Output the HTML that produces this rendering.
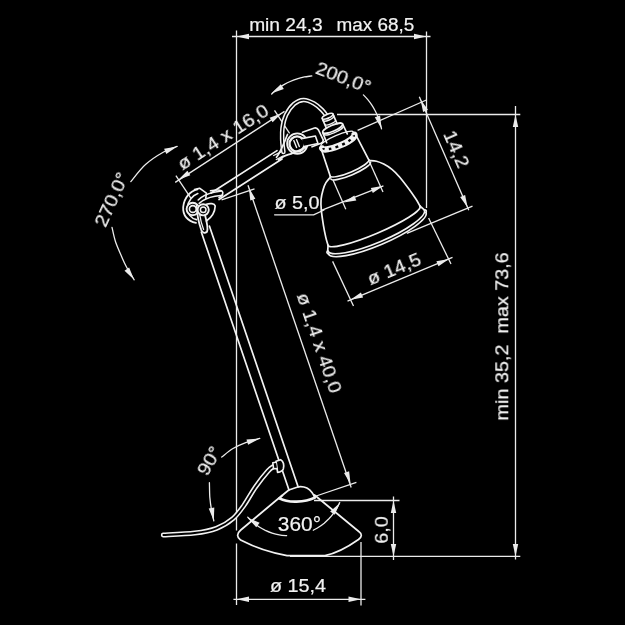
<!DOCTYPE html>
<html><head><meta charset="utf-8"><style>
html,body{margin:0;padding:0;background:#000;}
svg{display:block;}
text{font-family:"Liberation Sans",sans-serif;}
</style></head><body>
<svg width="625" height="625" viewBox="0 0 625 625">
<rect width="625" height="625" fill="#000"/>
<line x1="236.5" y1="30.5" x2="236.5" y2="530.5" stroke="#ebebeb" stroke-width="1.3"/>
<line x1="236.5" y1="543.5" x2="236.5" y2="605.0" stroke="#ebebeb" stroke-width="1.3"/>
<line x1="426.5" y1="31.5" x2="426.5" y2="208.0" stroke="#ebebeb" stroke-width="1.3"/>
<line x1="232.0" y1="36.5" x2="430.5" y2="36.5" stroke="#ebebeb" stroke-width="1.3"/>
<polygon points="236.5,36.5 249.0,33.8 249.0,39.2" fill="#ebebeb"/>
<polygon points="426.5,36.5 414.0,39.2 414.0,33.8" fill="#ebebeb"/>
<text style="will-change:transform" transform="translate(285.9,30.9) rotate(0.0) scale(1.037,1)" text-anchor="middle" font-size="18.5" fill="#f2f2f2" stroke="#f2f2f2" stroke-width="0.2">min 24,3</text>
<text style="will-change:transform" transform="translate(375.4,30.9) rotate(0.0) scale(1.023,1)" text-anchor="middle" font-size="18.5" fill="#f2f2f2" stroke="#f2f2f2" stroke-width="0.2">max 68,5</text>
<line x1="337.0" y1="114.5" x2="520.3" y2="114.5" stroke="#ebebeb" stroke-width="1.3"/>
<line x1="290.0" y1="556.4" x2="520.3" y2="556.4" stroke="#ebebeb" stroke-width="1.3"/>
<line x1="515.5" y1="106.0" x2="515.5" y2="559.5" stroke="#ebebeb" stroke-width="1.3"/>
<polygon points="515.5,114.5 518.2,127.0 512.8,127.0" fill="#ebebeb"/>
<polygon points="515.5,556.4 512.8,543.9 518.2,543.9" fill="#ebebeb"/>
<text style="will-change:transform" transform="translate(508.3,336.4) rotate(-90.0) scale(1.07,1)" text-anchor="middle" font-size="18.5" fill="#f2f2f2" stroke="#f2f2f2" stroke-width="0.2">min 35,2&#160;&#160;max 73,6</text>
<line x1="314.0" y1="500.5" x2="399.5" y2="500.5" stroke="#ebebeb" stroke-width="1.3"/>
<line x1="393.5" y1="496.5" x2="393.5" y2="560.0" stroke="#ebebeb" stroke-width="1.3"/>
<polygon points="393.5,500.5 396.2,513.0 390.8,513.0" fill="#ebebeb"/>
<polygon points="393.5,556.4 390.8,543.9 396.2,543.9" fill="#ebebeb"/>
<text style="will-change:transform" transform="translate(387.8,530.0) rotate(-90.0) scale(1.07,1)" text-anchor="middle" font-size="18.5" fill="#f2f2f2" stroke="#f2f2f2" stroke-width="0.2">6,0</text>
<line x1="361.0" y1="542.0" x2="361.0" y2="605.5" stroke="#ebebeb" stroke-width="1.3"/>
<line x1="233.4" y1="599.3" x2="365.4" y2="599.3" stroke="#ebebeb" stroke-width="1.3"/>
<polygon points="236.5,599.3 249.0,596.6 249.0,602.0" fill="#ebebeb"/>
<polygon points="361.0,599.3 348.5,602.0 348.5,596.6" fill="#ebebeb"/>
<text style="will-change:transform" transform="translate(298.0,591.6) rotate(0.0) scale(1.07,1)" text-anchor="middle" font-size="18.5" fill="#f2f2f2" stroke="#f2f2f2" stroke-width="0.2">ø 15,4</text>
<line x1="419.3" y1="96.8" x2="468.8" y2="210.2" stroke="#ebebeb" stroke-width="1.3"/>
<polygon points="420.5,99.5 428.0,109.8 423.1,112.0" fill="#ebebeb"/>
<polygon points="467.6,207.4 460.1,197.0 465.1,194.9" fill="#ebebeb"/>
<line x1="357.6" y1="130.4" x2="426.4" y2="100.0" stroke="#ebebeb" stroke-width="1.3"/>
<line x1="406.8" y1="233.3" x2="472.5" y2="206.2" stroke="#ebebeb" stroke-width="1.3"/>
<text style="will-change:transform" transform="translate(450.6,151.8) rotate(66.4) scale(1.07,1)" text-anchor="middle" font-size="18.5" fill="#f2f2f2" stroke="#f2f2f2" stroke-width="0.2">14,2</text>
<line x1="332.6" y1="261.4" x2="353.5" y2="306.0" stroke="#ebebeb" stroke-width="1.3"/>
<line x1="428.6" y1="218.0" x2="451.0" y2="264.0" stroke="#ebebeb" stroke-width="1.3"/>
<line x1="347.5" y1="301.1" x2="452.5" y2="257.4" stroke="#ebebeb" stroke-width="1.3"/>
<polygon points="350.5,299.8 360.9,292.4 363.1,297.4" fill="#ebebeb"/>
<polygon points="449.0,258.9 438.5,266.2 436.4,261.2" fill="#ebebeb"/>
<text style="will-change:transform" transform="translate(396.5,274.8) rotate(-22.5) scale(1.07,1)" text-anchor="middle" font-size="18.5" fill="#f2f2f2" stroke="#f2f2f2" stroke-width="0.2">ø 14,5</text>
<line x1="332.8" y1="179.4" x2="345.8" y2="209.2" stroke="#ebebeb" stroke-width="1.3"/>
<line x1="369.3" y1="161.5" x2="383.0" y2="192.0" stroke="#ebebeb" stroke-width="1.3"/>
<line x1="322.0" y1="210.2" x2="383.4" y2="185.8" stroke="#ebebeb" stroke-width="1.3"/>
<polygon points="343.7,202.5 354.3,195.4 356.3,200.4" fill="#ebebeb"/>
<polygon points="383.4,185.8 372.8,192.9 370.8,187.9" fill="#ebebeb"/>
<path d="M274.6,214.8 L313.6,214.8 L324,210" stroke="#ebebeb" stroke-width="1.3" fill="none" stroke-linecap="round" stroke-linejoin="round" />
<text style="will-change:transform" transform="translate(297.0,208.8) rotate(0.0) scale(1.07,1)" text-anchor="middle" font-size="18.5" fill="#f2f2f2" stroke="#f2f2f2" stroke-width="0.2">ø 5,0</text>
<line x1="221.6" y1="199.8" x2="254.5" y2="188.8" stroke="#ebebeb" stroke-width="1.3"/>
<line x1="314.7" y1="496.5" x2="356.4" y2="482.4" stroke="#ebebeb" stroke-width="1.3"/>
<line x1="248.0" y1="185.3" x2="351.2" y2="487.5" stroke="#ebebeb" stroke-width="1.3"/>
<polygon points="248.8,187.8 255.4,198.7 250.3,200.5" fill="#ebebeb"/>
<polygon points="350.6,484.0 344.0,473.1 349.1,471.3" fill="#ebebeb"/>
<text style="will-change:transform" transform="translate(313.3,345.0) rotate(71.2) scale(1.07,1)" text-anchor="middle" font-size="18.5" fill="#f2f2f2" stroke="#f2f2f2" stroke-width="0.2">ø 1,4 x 40,0</text>
<line x1="175.9" y1="175.7" x2="191.0" y2="198.3" stroke="#ebebeb" stroke-width="1.3"/>
<line x1="274.5" y1="110.4" x2="289.6" y2="133.4" stroke="#ebebeb" stroke-width="1.3"/>
<line x1="175.2" y1="182.4" x2="284.5" y2="111.4" stroke="#ebebeb" stroke-width="1.3"/>
<polygon points="178.4,179.8 187.4,170.7 190.3,175.2" fill="#ebebeb"/>
<polygon points="281.6,113.2 272.6,122.3 269.7,117.8" fill="#ebebeb"/>
<text style="will-change:transform" transform="translate(226.5,142.3) rotate(-33.0) scale(1.07,1)" text-anchor="middle" font-size="18.5" fill="#f2f2f2" stroke="#f2f2f2" stroke-width="0.2">ø 1,4 x 16,0</text>
<path d="M130.8,181.6 C133.2,178.8 140.0,169.4 145.5,164.5 C151.0,159.6 158.3,155.0 163.6,152.0 C168.9,149.0 174.9,147.3 177.2,146.4" stroke="#ebebeb" stroke-width="1.3" fill="none" stroke-linecap="round" stroke-linejoin="round" />
<polygon points="177.2,146.4 166.3,154.0 164.1,148.8" fill="#ebebeb"/>
<path d="M112.0,227.3 C112.6,229.8 113.9,237.0 115.6,242.0 C117.3,247.0 120.2,253.2 122.0,257.4 C123.8,261.6 124.5,263.3 126.5,267.0 C128.5,270.7 132.9,277.7 134.2,279.8" stroke="#ebebeb" stroke-width="1.3" fill="none" stroke-linecap="round" stroke-linejoin="round" />
<polygon points="134.2,279.8 124.5,270.7 129.1,267.5" fill="#ebebeb"/>
<text style="will-change:transform" transform="translate(117.5,202.2) rotate(-65.5) scale(1.07,1)" text-anchor="middle" font-size="18.5" fill="#f2f2f2" stroke="#f2f2f2" stroke-width="0.2">270,0°</text>
<path d="M271.7,94.0 C272.6,93.2 275.4,90.6 277.3,89.1 C279.3,87.6 281.4,86.2 283.5,84.9 C285.7,83.7 287.9,82.5 290.2,81.5 C292.4,80.5 294.8,79.6 297.2,78.8 C299.5,78.0 302.0,77.4 304.4,76.9 C306.8,76.5 310.6,76.1 311.8,75.9" stroke="#ebebeb" stroke-width="1.3" fill="none" stroke-linecap="round" stroke-linejoin="round" />
<polygon points="271.2,93.5 280.8,84.3 283.8,89.1" fill="#ebebeb"/>
<path d="M363.4,94.9 C364.2,95.7 366.4,98.0 367.8,99.7 C369.2,101.4 370.5,103.1 371.7,104.9 C372.9,106.7 374.0,108.6 375.0,110.5 C376.0,112.4 377.0,114.4 377.8,116.4 C378.6,118.4 379.3,120.4 379.9,122.5 C380.6,124.6 381.2,127.7 381.5,128.8" stroke="#ebebeb" stroke-width="1.3" fill="none" stroke-linecap="round" stroke-linejoin="round" />
<polygon points="381.5,128.8 374.8,117.3 380.1,115.6" fill="#ebebeb"/>
<text style="will-change:transform" transform="translate(341.2,83.5) rotate(21.0) scale(1.07,1)" text-anchor="middle" font-size="18.5" fill="#f2f2f2" stroke="#f2f2f2" stroke-width="0.2">200,0°</text>
<path d="M221.7,457.0 C223.6,455.6 228.9,450.9 233.0,448.5 C237.1,446.1 241.8,444.1 246.3,442.4 C250.8,440.7 257.6,439.1 259.8,438.4" stroke="#ebebeb" stroke-width="1.3" fill="none" stroke-linecap="round" stroke-linejoin="round" />
<polygon points="259.8,438.4 248.1,444.8 246.5,439.4" fill="#ebebeb"/>
<path d="M209.4,482.7 C209.5,485.1 209.5,492.4 209.8,497.0 C210.2,501.6 210.8,506.0 211.5,510.0 C212.2,514.0 213.4,519.0 213.8,520.8" stroke="#ebebeb" stroke-width="1.3" fill="none" stroke-linecap="round" stroke-linejoin="round" />
<polygon points="213.8,520.8 208.7,508.5 214.3,507.5" fill="#ebebeb"/>
<text style="will-change:transform" transform="translate(214.9,463.9) rotate(-60.0) scale(1.07,1)" text-anchor="middle" font-size="18.5" fill="#f2f2f2" stroke="#f2f2f2" stroke-width="0.2">90°</text>
<path d="M247.7,517.1 C248.6,518.0 251.1,520.7 253.0,522.3 C254.8,523.9 256.8,525.4 258.9,526.8 C260.9,528.1 263.1,529.3 265.3,530.4 C267.5,531.4 269.8,532.4 272.1,533.1 C274.5,533.9 276.9,534.5 279.3,534.9 C281.7,535.4 285.4,535.6 286.6,535.7" stroke="#ebebeb" stroke-width="1.3" fill="none" stroke-linecap="round" stroke-linejoin="round" />
<polygon points="247.4,517.4 259.6,522.8 256.3,527.3" fill="#ebebeb"/>
<path d="M313.3,530.2 C314.2,529.7 317.1,528.2 318.9,527.0 C320.7,525.9 322.5,524.6 324.2,523.2 C325.8,521.8 327.4,520.3 328.9,518.8 C330.4,517.2 331.8,515.5 333.1,513.8 C334.4,512.1 335.7,510.3 336.7,508.4 C337.8,506.5 339.2,503.5 339.7,502.6" stroke="#ebebeb" stroke-width="1.3" fill="none" stroke-linecap="round" stroke-linejoin="round" />
<polygon points="340.2,502.8 334.6,514.8 330.1,511.4" fill="#ebebeb"/>
<text style="will-change:transform" transform="translate(299.4,531.0) rotate(0.0) scale(1.045,1)" text-anchor="middle" font-size="20" fill="#f2f2f2" stroke="#f2f2f2" stroke-width="0.2">360°</text>
<path d="M282,495.5 L240.8,530 Q234.5,535.3 240.6,540.1 C252,546 265,552 287,555.6 L325,555.6 C338,553 350,545.5 358.5,539.5 Q364,535.3 358.8,531.5 L314.5,495" stroke="#f2f2f2" stroke-width="1.7" fill="none" stroke-linecap="round" stroke-linejoin="round" />
<path d="M279.2,498.6 C282,495.5 285.5,492.5 288.8,490" stroke="#f2f2f2" stroke-width="1.7" fill="none" stroke-linecap="round" stroke-linejoin="round" />
<path d="M298.5,486.8 C304,486.2 309,488.5 312,492.5 C313.3,494.2 314.2,496 314.8,497.7" stroke="#f2f2f2" stroke-width="1.7" fill="none" stroke-linecap="round" stroke-linejoin="round" />
<path d="M279.5,498.4 C288,503.2 305,502.6 314.8,497.6" stroke="#f2f2f2" stroke-width="2.7" fill="none" stroke-linecap="round" stroke-linejoin="round" />
<path d="M288.8,490 L298.5,486.8" stroke="#f2f2f2" stroke-width="1.6" fill="none" stroke-linecap="round" stroke-linejoin="round" />
<path d="M201.3,232 L288.9,489.8" stroke="#f2f2f2" stroke-width="1.7" fill="none" stroke-linecap="round" stroke-linejoin="round" />
<path d="M209.4,226 L298.0,486.5" stroke="#f2f2f2" stroke-width="1.7" fill="none" stroke-linecap="round" stroke-linejoin="round" />
<path d="M273.5,466.5 C272.6,467.2 271.0,467.6 268.0,471.0 C265.0,474.4 259.3,481.5 255.3,487.2 C251.3,492.9 247.8,499.9 244.1,505.1 C240.4,510.3 237.5,514.7 232.9,518.6 C228.3,522.5 222.8,525.9 216.5,528.3 C210.2,530.7 203.7,531.9 194.8,533.0 C186.0,534.1 168.6,534.7 163.4,535.0" stroke="#f2f2f2" stroke-width="5.0" fill="none" stroke-linecap="round" stroke-linejoin="round" />
<path d="M273.5,466.5 C272.6,467.2 271.0,467.6 268.0,471.0 C265.0,474.4 259.3,481.5 255.3,487.2 C251.3,492.9 247.8,499.9 244.1,505.1 C240.4,510.3 237.5,514.7 232.9,518.6 C228.3,522.5 222.8,525.9 216.5,528.3 C210.2,530.7 203.7,531.9 194.8,533.0 C186.0,534.1 168.6,534.7 163.4,535.0" stroke="#000" stroke-width="1.9" fill="none" stroke-linecap="round" stroke-linejoin="round" />
<path d="M276,461.2 L280.7,459.7 C283.5,461 284.4,465.5 283.3,469 C282.5,471 280.5,472 277.6,472.4 Z" stroke="#f2f2f2" stroke-width="1.7" fill="#000" stroke-linecap="round" stroke-linejoin="round" />
<path d="M276,462.2 L272.8,462.8 L273.6,468.8 L277,468.6" stroke="#f2f2f2" stroke-width="1.6" fill="#000" stroke-linecap="round" stroke-linejoin="round" />
<path d="M211,193.0 L277,150.6" stroke="#f2f2f2" stroke-width="1.7" fill="none" stroke-linecap="round" stroke-linejoin="round" />
<path d="M219,199.5 L282,159.0" stroke="#f2f2f2" stroke-width="1.7" fill="none" stroke-linecap="round" stroke-linejoin="round" />
<path d="M197.5,189.3 C190,191 184,198 183.2,207 C182.6,215 187.5,221.5 196,222.8" stroke="#f2f2f2" stroke-width="1.8" fill="none" stroke-linecap="round" stroke-linejoin="round" />
<path d="M197.8,193.6 C192.5,195.5 188,201 187.4,207.5 C187,213.5 191,218.5 196.5,219.6" stroke="#f2f2f2" stroke-width="1.6" fill="none" stroke-linecap="round" stroke-linejoin="round" />
<path d="M194.5,189.6 L199.5,188.2 L206.4,193.2 L205.8,198.2" stroke="#f2f2f2" stroke-width="1.6" fill="none" stroke-linecap="round" stroke-linejoin="round" />
<circle cx="192.8" cy="209" r="6.2" stroke="#f2f2f2" stroke-width="1.9" fill="#000"/>
<circle cx="192.8" cy="209" r="3.4" stroke="#f2f2f2" stroke-width="1.6" fill="none"/>
<path d="M196.6,205 C196.8,213 198.5,222 201.2,229.8 Q203.5,234.6 207,231.8 C208.4,228.5 206.6,221 205,215" stroke="#f2f2f2" stroke-width="1.8" fill="#000" stroke-linecap="round" stroke-linejoin="round" />
<path d="M199.6,214 C200.5,220 202,225.5 203.6,229.5" stroke="#f2f2f2" stroke-width="1.3" fill="none" stroke-linecap="round" stroke-linejoin="round" />
<circle cx="203.2" cy="209.8" r="5.6" stroke="#f2f2f2" stroke-width="1.9" fill="#000"/>
<circle cx="203.2" cy="209.8" r="2.8" stroke="#f2f2f2" stroke-width="1.5" fill="none"/>
<path d="M198.2,200 C202,196 208,193.5 214,192.2 L221.5,191" stroke="#f2f2f2" stroke-width="1.6" fill="none" stroke-linecap="round" stroke-linejoin="round" />
<path d="M199.2,203.4 C203,199.8 209,197.4 215,196.3 L222.5,195.2" stroke="#f2f2f2" stroke-width="1.6" fill="none" stroke-linecap="round" stroke-linejoin="round" />
<path d="M206.4,204.2 C210,203 214.5,203.5 215.2,206 C215,211 213,216.5 206.4,221" stroke="#f2f2f2" stroke-width="1.7" fill="none" stroke-linecap="round" stroke-linejoin="round" />
<path d="M210.5,190.8 Q222,188.5 222.8,192.5 Q223,196 219,197.5" stroke="#f2f2f2" stroke-width="1.6" fill="none" stroke-linecap="round" stroke-linejoin="round" />
<path d="M283.4,152.0 C283.2,150.0 282.3,144.0 282.2,140.0 C282.1,136.0 281.9,132.2 282.5,128.0 C283.1,123.8 284.1,119.0 286.0,115.0 C287.9,111.0 291.1,106.5 294.0,104.0 C296.9,101.5 300.3,100.1 303.6,100.0 C306.9,99.9 310.9,101.8 314.0,103.5 C317.1,105.2 319.8,107.8 322.0,110.0 C324.2,112.2 326.6,115.8 327.5,117.0" stroke="#f2f2f2" stroke-width="4.6" fill="none" stroke-linecap="round" stroke-linejoin="round" />
<path d="M283.4,152.0 C283.2,150.0 282.3,144.0 282.2,140.0 C282.1,136.0 281.9,132.2 282.5,128.0 C283.1,123.8 284.1,119.0 286.0,115.0 C287.9,111.0 291.1,106.5 294.0,104.0 C296.9,101.5 300.3,100.1 303.6,100.0 C306.9,99.9 310.9,101.8 314.0,103.5 C317.1,105.2 319.8,107.8 322.0,110.0 C324.2,112.2 326.6,115.8 327.5,117.0" stroke="#000" stroke-width="1.6" fill="none" stroke-linecap="round" stroke-linejoin="round" />
<path d="M276.5,157.2 C282,150 285,140 287.5,134.5" stroke="#f2f2f2" stroke-width="1.7" fill="none" stroke-linecap="round" stroke-linejoin="round" />
<circle cx="297.3" cy="143.6" r="10.2" stroke="#f2f2f2" stroke-width="1.8" fill="#000"/>
<circle cx="297.1" cy="144" r="7.6" stroke="#f2f2f2" stroke-width="2.3" fill="none"/>
<path d="M293.8,140.6 L296.6,147.6" stroke="#f2f2f2" stroke-width="1.4" fill="none" stroke-linecap="round" stroke-linejoin="round" />
<path d="M296.5,139.6 L299.3,146.6" stroke="#f2f2f2" stroke-width="1.4" fill="none" stroke-linecap="round" stroke-linejoin="round" />
<path d="M301.5,138.6 L315.4,136 L318,143.5 L304,146.5" stroke="#f2f2f2" stroke-width="1.6" fill="#000" stroke-linecap="round" stroke-linejoin="round" />
<path d="M302.5,132.2 L314.5,128 Q317,127.5 318.5,130 L323.2,139.8 Q323.5,142 321,143.2 L312,146.8" stroke="#f2f2f2" stroke-width="1.7" fill="none" stroke-linecap="round" stroke-linejoin="round" />
<path d="M278.5,160 C283,156 288,154.3 292,153.6 L306,147.2" stroke="#f2f2f2" stroke-width="1.7" fill="none" stroke-linecap="round" stroke-linejoin="round" />
<path d="M273.7,155.5 L280.5,152.2 M276.3,159.5 L283,156" stroke="#f2f2f2" stroke-width="1.3" fill="none" stroke-linecap="round" stroke-linejoin="round" />
<g transform="translate(378,235) rotate(-23)"><path d="M21.0,-72.0 C22.1,-71.4 25.5,-70.0 27.5,-68.5 C29.5,-67.0 31.2,-65.2 33.0,-63.0 C34.8,-60.8 36.9,-58.0 38.5,-55.0 C40.1,-52.0 41.2,-49.2 42.5,-45.0 C43.8,-40.8 45.4,-34.5 46.5,-30.0 C47.6,-25.5 48.4,-21.3 49.0,-18.0 C49.6,-14.7 49.8,-11.3 50.0,-10.0" stroke="#f2f2f2" stroke-width="1.7" fill="none" stroke-linecap="round" stroke-linejoin="round"/><path d="M-21.0,-72.0 C-22.1,-71.4 -25.5,-70.0 -27.5,-68.5 C-29.5,-67.0 -31.2,-65.2 -33.0,-63.0 C-34.8,-60.8 -36.9,-58.0 -38.5,-55.0 C-40.1,-52.0 -41.2,-49.2 -42.5,-45.0 C-43.8,-40.8 -45.4,-34.5 -46.5,-30.0 C-47.6,-25.5 -48.4,-21.3 -49.0,-18.0 C-49.6,-14.7 -49.8,-11.3 -50.0,-10.0" stroke="#f2f2f2" stroke-width="1.7" fill="none" stroke-linecap="round" stroke-linejoin="round"/><path d="M-50,-10 A50,8 0 0 0 50,-10" stroke="#f2f2f2" stroke-width="1.7" fill="none" stroke-linecap="round" stroke-linejoin="round"/><path d="M50,-10 L52.5,-5" stroke="#f2f2f2" stroke-width="1.7" fill="none" stroke-linecap="round" stroke-linejoin="round"/><path d="M-50,-10 L-52.5,-5" stroke="#f2f2f2" stroke-width="1.7" fill="none" stroke-linecap="round" stroke-linejoin="round"/><path d="M-52.5,-5 A52.5,12 0 0 0 52.5,-5" stroke="#f2f2f2" stroke-width="1.7" fill="none" stroke-linecap="round" stroke-linejoin="round"/><path d="M-53,-2 A53,12 0 0 0 53,-2" stroke="#f2f2f2" stroke-width="1.7" fill="none" stroke-linecap="round" stroke-linejoin="round"/><path d="M52.5,-5 Q55,-4 53,-2" stroke="#f2f2f2" stroke-width="1.7" fill="none" stroke-linecap="round" stroke-linejoin="round"/><path d="M-52.5,-5 Q-55,-4 -53,-2" stroke="#f2f2f2" stroke-width="1.7" fill="none" stroke-linecap="round" stroke-linejoin="round"/><path d="M-18.8,-100 L-21,-72" stroke="#f2f2f2" stroke-width="1.7" fill="none" stroke-linecap="round" stroke-linejoin="round"/><path d="M18.8,-100 L21,-72" stroke="#f2f2f2" stroke-width="1.7" fill="none" stroke-linecap="round" stroke-linejoin="round"/><path d="M-21,-73 A21,4.5 0 0 0 21,-73" stroke="#f2f2f2" stroke-width="1.7" fill="none" stroke-linecap="round" stroke-linejoin="round"/><path d="M-21.5,-70 A21.5,4.5 0 0 0 21.5,-70" stroke="#f2f2f2" stroke-width="1.7" fill="none" stroke-linecap="round" stroke-linejoin="round"/><path d="M-17.6,-101.6 A17.6,4.3 0 0 0 17.6,-101.6" stroke="#f2f2f2" stroke-width="6.2" fill="none" stroke-linecap="round" stroke-linejoin="round"/><path d="M-16.6,-101.4 A16.6,4.3 0 0 0 16.6,-101.4" stroke="#000" stroke-width="2.4" fill="none" stroke-dasharray="2.8 4.2" stroke-dashoffset="1"/><path d="M-17.6,-104.5 A17.6,3.5 0 0 1 17.6,-104.5" stroke="#f2f2f2" stroke-width="1.2" fill="none" stroke-linecap="round" stroke-linejoin="round"/><path d="M-10.8,-116 L-11.2,-105" stroke="#f2f2f2" stroke-width="1.7" fill="none" stroke-linecap="round" stroke-linejoin="round"/><path d="M10.8,-116 L11.2,-105" stroke="#f2f2f2" stroke-width="1.7" fill="none" stroke-linecap="round" stroke-linejoin="round"/><ellipse cx="0" cy="-116" rx="10.8" ry="3" stroke="#f2f2f2" stroke-width="1.7" fill="#000"/><path d="M-10.8,-114.2 A10.8,3 0 0 0 10.8,-114.2" stroke="#f2f2f2" stroke-width="1.3" fill="none" stroke-linecap="round" stroke-linejoin="round"/><path d="M-5.8,-129 L-5.8,-118.5" stroke="#f2f2f2" stroke-width="1.7" fill="none" stroke-linecap="round" stroke-linejoin="round"/><path d="M5.8,-129 L5.8,-118.5" stroke="#f2f2f2" stroke-width="1.7" fill="none" stroke-linecap="round" stroke-linejoin="round"/><ellipse cx="0" cy="-129" rx="5.8" ry="2" stroke="#f2f2f2" stroke-width="1.6" fill="#000"/><path d="M-5.8,-127 A5.8,2 0 0 0 5.8,-127" stroke="#f2f2f2" stroke-width="1.6" fill="none" stroke-linecap="round" stroke-linejoin="round"/><path d="M-5.8,-122.5 A5.8,1.8 0 0 0 5.8,-122.5" stroke="#f2f2f2" stroke-width="1.3" fill="none" stroke-linecap="round" stroke-linejoin="round"/></g>
</svg></body></html>
